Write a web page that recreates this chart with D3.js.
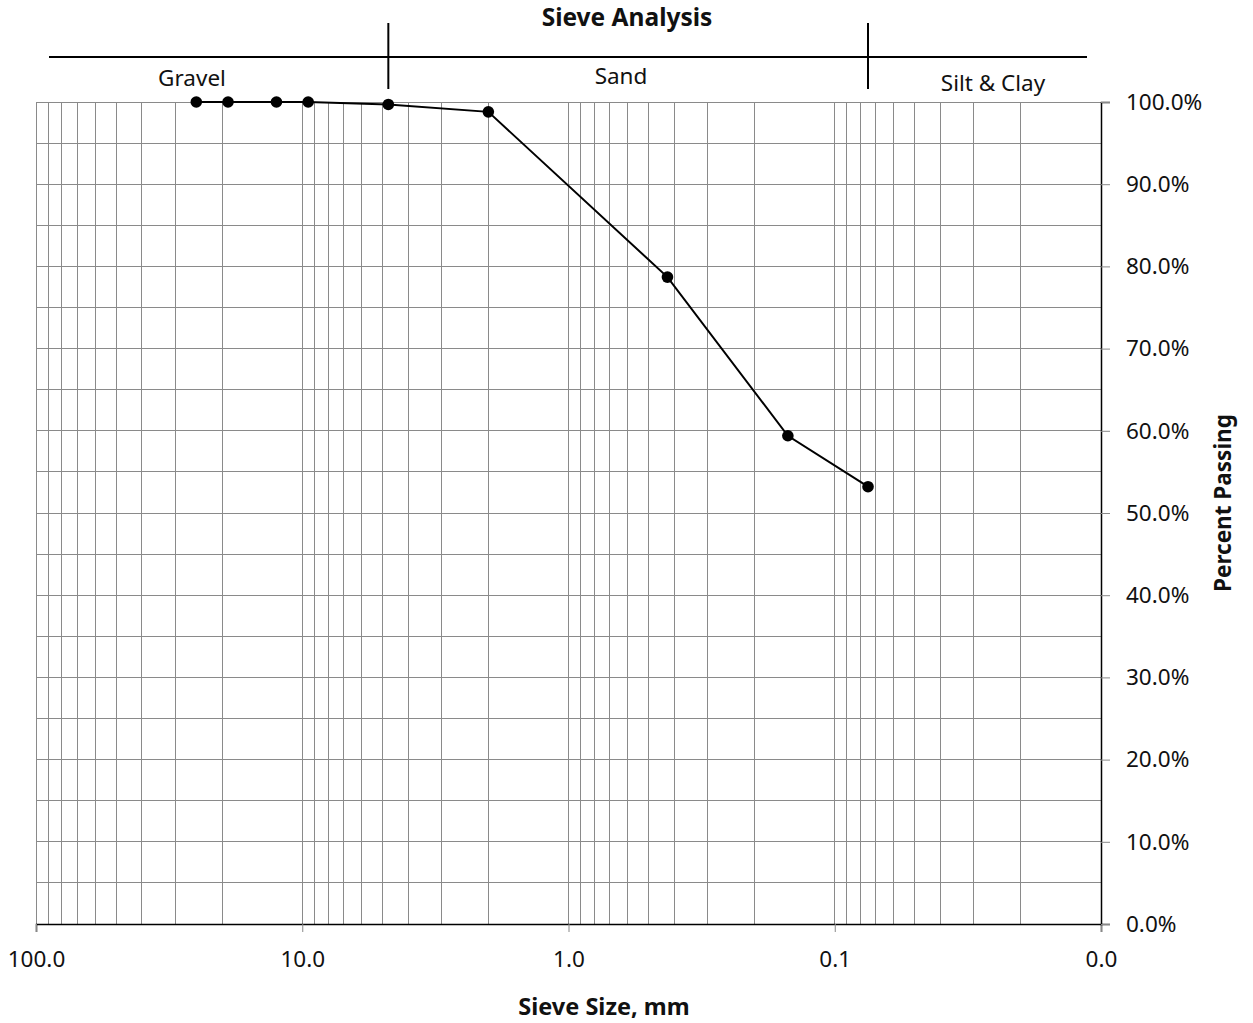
<!DOCTYPE html>
<html>
<head>
<meta charset="utf-8">
<script src="https://cdn.jsdelivr.net/npm/d3@7"></script>
<style>
  body { margin: 0; background: #fff; }
  svg text { font-family: "Noto Sans", "Open Sans", sans-serif; fill: #111; }
</style>
</head>
<body>
<svg id="chart" width="1253" height="1023"></svg>
<script>
// sieve sizes in mm and percent passing
const sieveSizes = [25, 19, 12.5, 9.5, 4.75, 2.0, 0.425, 0.15, 0.075];
const percentPassing = [1.000, 1.000, 1.000, 1.000, 0.997, 0.988, 0.787, 0.594, 0.532];

// soil class bands (boundaries in mm)
const bandNames = ["Gravel", "Sand", "Silt & Clay"];
const bandBounds = [4.75, 0.075];

const xTicks = [100, 10, 1, 0.1, 0.01];
const yTicks = [0, 0.1, 0.2, 0.3, 0.4, 0.5, 0.6, 0.7, 0.8, 0.9, 1.0];

const margin = {top: 102, right: 152, bottom: 99, left: 36},
  width = 1253 - margin.left - margin.right,
  height = 1023 - margin.top - margin.bottom;

const svg = d3.select("#chart")
  .append("g")
  .attr("transform", `translate(${margin.left},${margin.top})`);

const x = d3.scaleLog()
  .domain([100, 0.01])
  .range([0, width]);

const y = d3.scaleLinear()
  .domain([0, 1])
  .range([height, 0]);

// vertical grid: 1..9 x each decade
const vGrid = [];
for (let e = -2; e <= 1; e++) {
  for (let k = 1; k <= 9; k++) vGrid.push(k * Math.pow(10, e));
}
vGrid.push(100);

svg.append("g")
  .selectAll("line")
  .data(vGrid)
  .join("line")
  .attr("x1", d => x(d)).attr("x2", d => x(d))
  .attr("y1", 0).attr("y2", height)
  .attr("stroke", "#8a8a8a")
  .attr("stroke-width", 1)
  .attr("shape-rendering", "crispEdges");

// horizontal grid every 5%
const hGrid = d3.range(0, 21).map(i => i * 0.05);
svg.append("g")
  .selectAll("line")
  .data(hGrid)
  .join("line")
  .attr("x1", 0).attr("x2", width)
  .attr("y1", d => y(d)).attr("y2", d => y(d))
  .attr("stroke", "#8a8a8a")
  .attr("stroke-width", 1)
  .attr("shape-rendering", "crispEdges");

// bottom axis
const xAxis = svg.append("g")
  .attr("transform", `translate(0,${height})`)
  .call(d3.axisBottom(x).tickValues(xTicks).tickFormat(d3.format(".1f")).tickSize(8).tickPadding(19));
xAxis.select(".domain").attr("stroke", "#000").attr("stroke-width", 1.5);
xAxis.selectAll(".tick line").attr("stroke", "#888");
xAxis.selectAll("text").style("font-size", "22.5px");

// right axis
const yAxis = svg.append("g")
  .attr("transform", `translate(${width},0)`)
  .call(d3.axisRight(y).tickValues(yTicks).tickFormat(d3.format(".1%")).tickSize(9).tickPadding(16));
yAxis.select(".domain").attr("stroke", "#000").attr("stroke-width", 1.5);
yAxis.selectAll(".tick line").attr("stroke", "#888");
yAxis.selectAll("text").style("font-size", "22.5px");

// data line
const pts = sieveSizes.map((s, i) => [s, percentPassing[i]]);
svg.append("path")
  .datum(pts)
  .attr("fill", "none")
  .attr("stroke", "#000")
  .attr("stroke-width", 2)
  .attr("d", d3.line().x(d => x(d[0])).y(d => y(d[1])));

svg.append("g")
  .selectAll("circle")
  .data(pts)
  .join("circle")
  .attr("cx", d => x(d[0]))
  .attr("cy", d => y(d[1]))
  .attr("r", 5.8)
  .attr("fill", "#000");

// classification header
svg.append("line")
  .attr("x1", 13).attr("x2", width - 14)
  .attr("y1", -45).attr("y2", -45)
  .attr("stroke", "#000").attr("stroke-width", 2);

svg.append("g")
  .selectAll("line")
  .data(bandBounds)
  .join("line")
  .attr("x1", d => x(d)).attr("x2", d => x(d))
  .attr("y1", -79).attr("y2", -13)
  .attr("stroke", "#000").attr("stroke-width", 2);

const bandX = [156, 585, 957];
const bandY = [-16, -18, -11];
svg.append("g")
  .selectAll("text")
  .data(bandNames)
  .join("text")
  .attr("x", (d, i) => bandX[i])
  .attr("y", (d, i) => bandY[i])
  .attr("text-anchor", "middle")
  .style("font-size", "22.5px")
  .text(d => d);

svg.append("text")
  .attr("x", 591).attr("y", -76)
  .attr("text-anchor", "middle")
  .style("font-size", "24.5px")
  .style("font-weight", "bold")
  .text("Sieve Analysis");

svg.append("text")
  .attr("x", 568).attr("y", height + 91)
  .attr("text-anchor", "middle")
  .style("font-size", "23.5px")
  .style("font-weight", "bold")
  .text("Sieve Size, mm");

svg.append("text")
  .attr("transform", `translate(${width + 130},${height / 2 - 10}) rotate(-90)`)
  .attr("text-anchor", "middle")
  .style("font-size", "22.5px")
  .style("font-weight", "bold")
  .text("Percent Passing");
</script>
</body>
</html>
